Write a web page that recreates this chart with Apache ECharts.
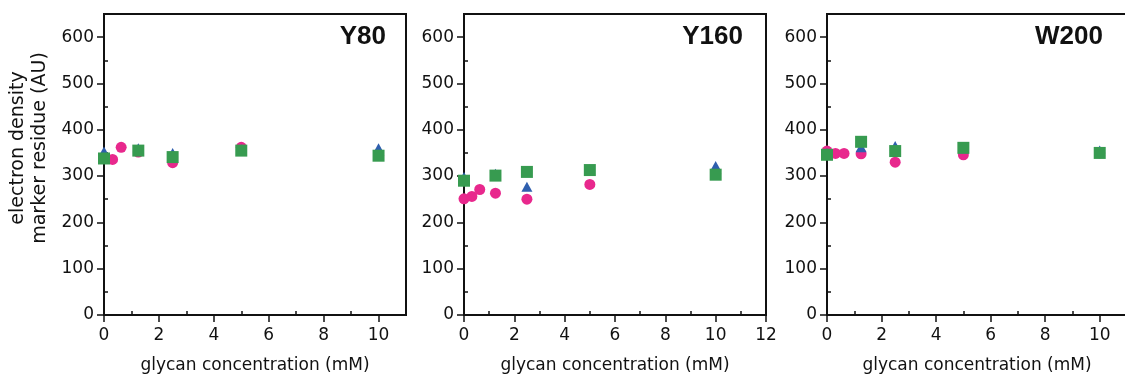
<!DOCTYPE html>
<html>
<head>
<meta charset="utf-8">
<script src="https://cdn.jsdelivr.net/npm/echarts@6/dist/echarts.min.js"></script>
<style>
  html, body { margin: 0; padding: 0; background: #fff; }
  #chart { width: 1125px; height: 377px; }
</style>
</head>
<body>
<div id="chart"></div>
<script>
// glycan concentration (mM)
const concCircle = [0, 0.3125, 0.625, 1.25, 2.5, 5, 10];
const concOther = [0, 1.25, 2.5, 5, 10];

// Y80
const y80Circle = [340, 336, 362, 352, 329, 362, 345];
const y80Triangle = [353, 360, 350, 358, 360];
const y80Square = [338, 355, 341, 355, 344];

// Y160
const y160Circle = [251, 256, 271, 263, 250, 282, 305];
const y160Triangle = [298, 305, 277, 315, 322];
const y160Square = [290, 301, 309, 313, 303];

// W200
const w200Circle = [354, 349, 349, 348, 330, 346, 350];
const w200Triangle = [350, 362, 365, 360, 355];
const w200Square = [346, 374, 354, 361, 350];

const panelTitles = ["Y80", "Y160", "W200"];
const xMaxes = [11, 12, 11];
const xMajorTicks = [
  [0, 2, 4, 6, 8, 10],
  [0, 2, 4, 6, 8, 10, 12],
  [0, 2, 4, 6, 8, 10],
];
const xMinorTicks = [
  [1, 3, 5, 7, 9],
  [1, 3, 5, 7, 9, 11],
  [1, 3, 5, 7, 9],
];
const yMajorTicks = [0, 100, 200, 300, 400, 500, 600];
const yMinorTicks = [50, 150, 250, 350, 450, 550];

const circleData = [y80Circle, y160Circle, w200Circle];
const triangleData = [y80Triangle, y160Triangle, w200Triangle];
const squareData = [y80Square, y160Square, w200Square];

const FONT = "DejaVu Sans";
const INK = "#111";
const gridLefts = [104, 464, 827];
const gridWidths = [302, 302, 300];
const titleRights = [386, 743, 1103];

const pairUp = (xs, ys) => ys.map((y, i) => [xs[i], y]);

const chart = echarts.init(document.getElementById("chart"));

const grids = [];
const xAxes = [];
const yAxes = [];
const series = [];
const titles = [];

for (let i = 0; i < 3; i++) {
  grids.push({
    left: gridLefts[i],
    top: 14,
    width: gridWidths[i],
    height: 301,
    show: true,
    borderWidth: 2,
    borderColor: INK,
    backgroundColor: "transparent",
    outerBoundsMode: "none",
    containLabel: false,
  });

  // main x axis (labels + long ticks)
  xAxes.push({
    gridIndex: i,
    type: "value",
    min: 0,
    max: xMaxes[i],
    axisLine: { show: true, onZero: false, lineStyle: { color: INK, width: 2 } },
    axisTick: {
      show: true,
      length: 7,
      customValues: xMajorTicks[i],
      lineStyle: { color: INK, width: 1.5 },
    },
    axisLabel: {
      customValues: xMajorTicks[i],
      margin: 12,
      fontSize: 17,
      fontFamily: FONT,
      color: INK,
    },
    splitLine: { show: false },
    name: "glycan concentration (mM)",
    nameLocation: "middle",
    nameGap: 42,
    nameTextStyle: { fontSize: 17, fontFamily: FONT, color: INK },
  });
  // overlay x axis (short ticks)
  xAxes.push({
    gridIndex: i,
    type: "value",
    min: 0,
    max: xMaxes[i],
    axisLine: { show: false },
    axisTick: {
      show: true,
      length: 4,
      customValues: xMinorTicks[i],
      lineStyle: { color: INK, width: 1.5 },
    },
    axisLabel: { show: false },
    splitLine: { show: false },
  });

  yAxes.push({
    gridIndex: i,
    type: "value",
    min: 0,
    max: 650,
    axisLine: { show: true, onZero: false, lineStyle: { color: INK, width: 2 } },
    axisTick: {
      show: true,
      length: 7,
      customValues: yMajorTicks,
      lineStyle: { color: INK, width: 1.5 },
    },
    axisLabel: {
      customValues: yMajorTicks,
      margin: 10,
      fontSize: 17,
      fontFamily: FONT,
      color: INK,
    },
    splitLine: { show: false },
  });
  yAxes.push({
    gridIndex: i,
    type: "value",
    min: 0,
    max: 650,
    axisLine: { show: false },
    axisTick: {
      show: true,
      length: 4,
      customValues: yMinorTicks,
      lineStyle: { color: INK, width: 1.5 },
    },
    axisLabel: { show: false },
    splitLine: { show: false },
  });

  series.push({
    type: "scatter",
    xAxisIndex: 2 * i,
    yAxisIndex: 2 * i,
    symbol: "circle",
    symbolSize: 11,
    itemStyle: { color: "#e8288d", opacity: 1 },
    z: 2,
    data: pairUp(concCircle, circleData[i]),
  });
  series.push({
    type: "scatter",
    xAxisIndex: 2 * i,
    yAxisIndex: 2 * i,
    symbol: "triangle",
    symbolSize: [11, 10],
    itemStyle: { color: "#2f5fae", opacity: 1 },
    z: 3,
    data: pairUp(concOther, triangleData[i]),
  });
  series.push({
    type: "scatter",
    xAxisIndex: 2 * i,
    yAxisIndex: 2 * i,
    symbol: "rect",
    symbolSize: 12,
    itemStyle: { color: "#379b50", opacity: 1 },
    z: 4,
    data: pairUp(concOther, squareData[i]),
  });

  titles.push({
    text: panelTitles[i],
    right: 1125 - titleRights[i],
    top: 24,
    padding: 0,
    textStyle: {
      fontSize: 26,
      fontWeight: "bold",
      fontFamily: "Liberation Sans",
      color: INK,
    },
  });
}

chart.setOption({
  animation: false,
  backgroundColor: "#fff",
  title: titles,
  grid: grids,
  xAxis: xAxes,
  yAxis: yAxes,
  series: series,
  graphic: [
    {
      type: "text",
      x: 29,
      y: 148,
      rotation: Math.PI / 2,
      style: {
        text: "electron density\nmarker residue (AU)",
        fontSize: 19,
        fontFamily: FONT,
        fill: INK,
        align: "center",
        verticalAlign: "middle",
        lineHeight: 22,
      },
    },
  ],
});
</script>
</body>
</html>
